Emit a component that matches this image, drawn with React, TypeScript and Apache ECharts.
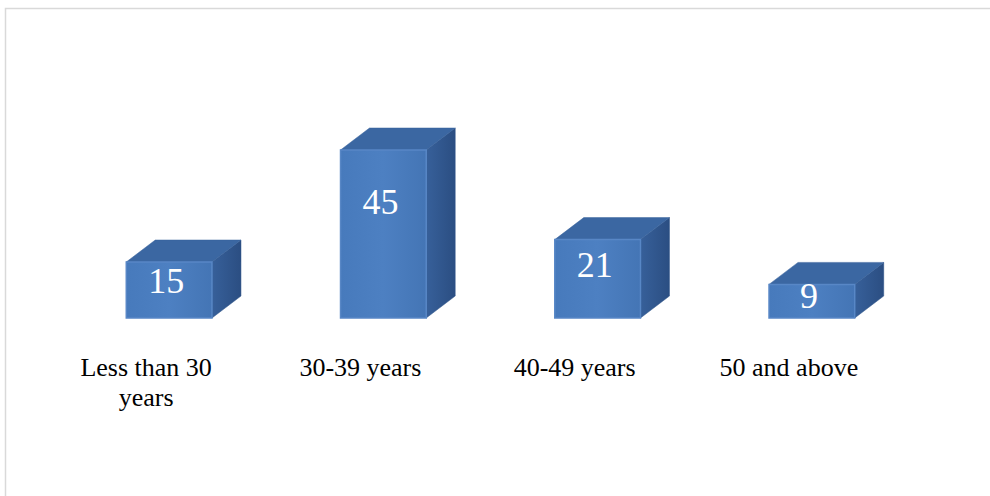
import React, { useEffect, useRef } from "react";
import * as echarts from "echarts";

const categories = ["Less than 30\nyears", "30-39 years", "40-49 years", "50 and above"];
const counts = [15, 45, 21, 9];

export default function App() {
  const ref = useRef<HTMLDivElement>(null);
  useEffect(() => {
    document.body.style.margin = "0";
    const chart = echarts.init(ref.current!, undefined, { renderer: "svg" });
    const font = '"Liberation Serif", "Times New Roman", serif';
    chart.setOption({
      animation: false,
      backgroundColor: "#ffffff",
      grid: { left: 62, right: 71, top: 94, bottom: 178 },
      xAxis: {
        type: "category",
        data: categories,
        axisLine: { show: false },
        axisTick: { show: false },
        splitLine: { show: false },
        axisLabel: {
          interval: 0,
          color: "#000000",
          fontFamily: font,
          fontSize: 26,
          lineHeight: 30,
          margin: 34,
          padding: [0, 46, 0, 0],
        },
      },
      yAxis: { type: "value", min: 0, max: 60, show: false },
      graphic: [
        {
          type: "rect",
          silent: true,
          shape: { x: 5.5, y: 8.5, width: 1000, height: 500 },
          style: { fill: "none", stroke: "#d9d9d9", lineWidth: 1.5 },
        },
      ],
      series: [
        {
          type: "custom",
          data: counts.map((v, i) => [i, v]),
          encode: { x: 0, y: 1 },
          renderItem: (params: any, api: any) => {
            const idx = api.value(0);
            const val = api.value(1);
            const top = api.coord([idx, val]);
            const base = api.coord([idx, 0]);
            const bw = api.size([1, 0])[0] * 0.4;
            const x0 = top[0] - bw / 2;
            const x1 = top[0] + bw / 2;
            const yT = top[1];
            const yB = base[1];
            const h = yB - yT;
            const dx = 29;
            const dy = 22;
            return {
              type: "group",
              children: [
                {
                  type: "polygon",
                  shape: { points: [[x1, yT], [x1 + dx, yT - dy], [x1 + dx, yB - dy], [x1, yB]] },
                  style: {
                    fill: new echarts.graphic.LinearGradient(0, 0, 1, 0, [
                      { offset: 0, color: "#37609a" },
                      { offset: 1, color: "#2b4e82" },
                    ]),
                    stroke: "#2f5488",
                    lineWidth: 0.5,
                  },
                },
                {
                  type: "polygon",
                  shape: { points: [[x0, yT], [x0 + dx, yT - dy], [x1 + dx, yT - dy], [x1, yT]] },
                  style: { fill: "#3b67a2", stroke: "#36609a", lineWidth: 0.5 },
                },
                {
                  type: "rect",
                  shape: { x: x0, y: yT, width: bw, height: h },
                  style: {
                    fill: new echarts.graphic.LinearGradient(0, 0, 1, 0, [
                      { offset: 0, color: "#477abc" },
                      { offset: 0.5, color: "#4d80c2" },
                      { offset: 1, color: "#4475b5" },
                    ]),
                    stroke: "#5887c6",
                    lineWidth: 1.5,
                  },
                },
                {
                  type: "text",
                  style: {
                    text: String(val),
                    x: top[0] - 3,
                    y: yT + h * 0.3 + 2,
                    align: "center",
                    verticalAlign: "middle",
                    fill: "#ffffff",
                    fontSize: 36,
                    fontFamily: font,
                  },
                },
              ],
            };
          },
        },
      ],
    });
    return () => chart.dispose();
  }, []);
  return <div ref={ref} style={{ width: 990, height: 496 }} />;
}
